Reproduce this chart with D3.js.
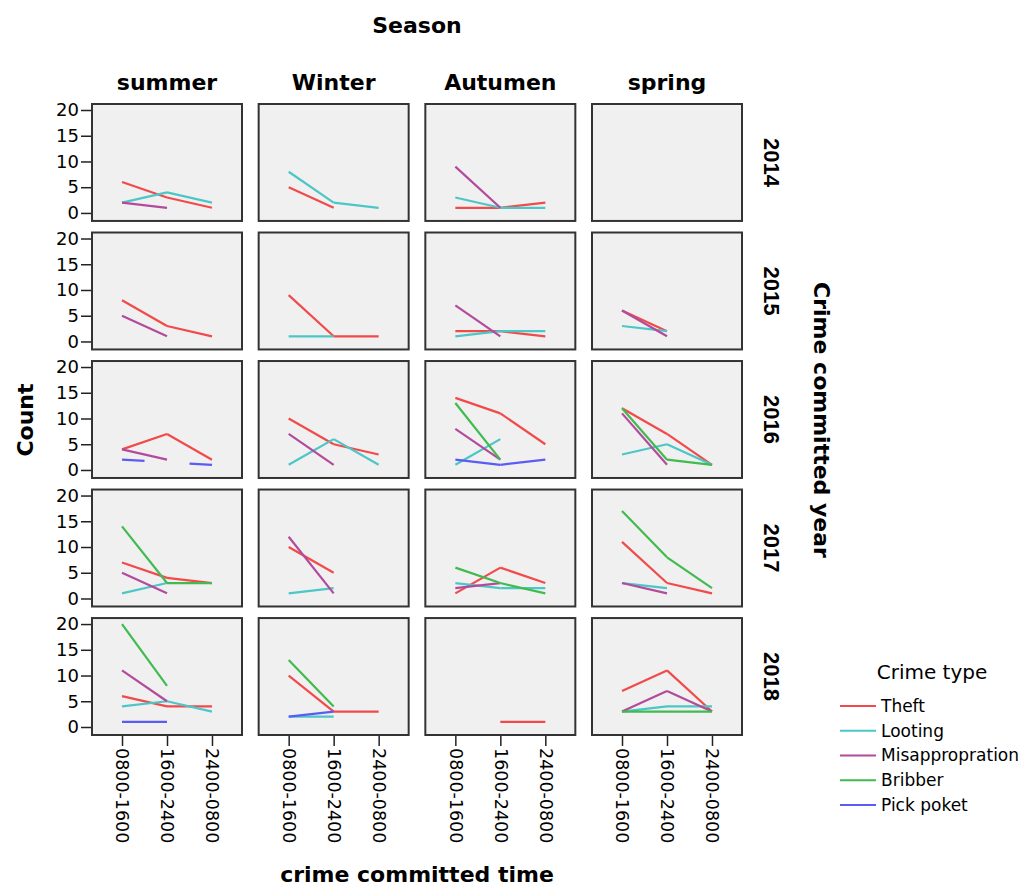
<!DOCTYPE html>
<html lang="en">
  <head>
    <meta charset="UTF-8" />
    <title>Crime type by time, season and year</title>
    <script src="https://cdn.jsdelivr.net/npm/d3@7"></script>
    <style>
      body { margin: 0; background: #fff; }
      text { font-family: "DejaVu Sans", sans-serif; fill: #000; }
    </style>
  </head>
  <body>
    <svg id="container" width="1027" height="888"></svg>
    <script>
      // facets
      const seasons = ["summer", "Winter", "Autumen", "spring"];
      const years = ["2014", "2015", "2016", "2017", "2018"];
      const times = ["0800-1600", "1600-2400", "2400-0800"];
      const yTicks = [0, 5, 10, 15, 20];

      const crimeTypes = ["Theft", "Looting", "Misappropration", "Bribber", "Pick poket"];
      const crimeColors = ["#f24a4a", "#4cc6c6", "#b24b9c", "#41bb4f", "#5b5bf5"];

      // counts per panel, order: year by year, seasons summer/Winter/Autumen/spring
      // each entry = [0800-1600, 1600-2400, 2400-0800]
      const N = null;
      const theft = [
        [6, 3, 1], [5, 1, N], [1, 1, 2], [N, N, N],
        [8, 3, 1], [9, 1, 1], [2, 2, 1], [6, 2, N],
        [4, 7, 2], [10, 5, 3], [14, 11, 5], [12, 7, 1],
        [7, 4, 3], [10, 5, N], [1, 6, 3], [11, 3, 1],
        [6, 4, 4], [10, 3, 3], [N, 1, 1], [7, 11, 3]
      ];
      const looting = [
        [2, 4, 2], [8, 2, 1], [3, 1, 1], [N, N, N],
        [N, N, N], [1, 1, N], [1, 2, 2], [3, 2, N],
        [N, N, N], [1, 6, 1], [1, 6, N], [3, 5, 1],
        [1, 3, N], [1, 2, N], [3, 2, 2], [3, 2, N],
        [4, 5, 3], [2, 2, N], [N, N, N], [3, 4, 4]
      ];
      const misappropration = [
        [2, 1, N], [N, N, N], [9, 1, N], [N, N, N],
        [5, 1, N], [N, N, N], [7, 1, N], [6, 1, N],
        [4, 2, N], [7, 1, N], [8, 2, N], [11, 1, N],
        [5, 1, N], [12, 1, N], [2, 3, N], [3, 1, N],
        [11, 5, N], [N, N, N], [N, N, N], [3, 7, 3]
      ];
      const bribber = [
        [N, N, N], [N, N, N], [N, N, N], [N, N, N],
        [N, N, N], [N, N, N], [N, N, N], [N, N, N],
        [N, N, N], [N, N, N], [13, 2, N], [12, 2, 1],
        [14, 3, 3], [N, N, N], [6, 3, 1], [17, 8, 2],
        [20, 8, N], [13, 4, N], [N, N, N], [3, 3, 3]
      ];
      const pickPoket = [
        [N, N, N], [N, N, N], [N, N, N], [N, N, N],
        [N, N, N], [N, N, N], [N, N, N], [N, N, N],
        [2, N, 1], [N, N, N], [2, 1, 2], [N, N, N],
        [N, N, N], [N, N, N], [N, N, N], [N, N, N],
        [1, 1, N], [2, 3, N], [N, N, N], [N, N, N]
      ];
      const seriesData = [theft, looting, misappropration, bribber, pickPoket];

      let svg = d3.select("#container");

      // panel grid
      let colScale = d3.scaleBand().domain(seasons).range([92, 742]).paddingInner(0.1);
      let rowScale = d3.scaleBand().domain(years).range([104, 735]).paddingInner(0.09);
      let pw = colScale.bandwidth();
      let ph = rowScale.bandwidth();

      let x = d3.scalePoint().domain(times).range([0, pw]).padding(0.667);
      let y = d3.scaleLinear().domain([0, 20]).range([ph - 8, 6]);
      let color = d3.scaleOrdinal().domain(crimeTypes).range(crimeColors);

      years.forEach((yr, ri) => {
        seasons.forEach((s, ci) => {
          let g = svg.append("g")
            .attr("transform", `translate(${colScale(s)},${rowScale(yr)})`);

          g.append("rect")
            .attr("width", pw)
            .attr("height", ph)
            .attr("fill", "#f0f0f0")
            .attr("stroke", "#333")
            .attr("stroke-width", 2);

          // lines, with a broken link across a missing category
          crimeTypes.forEach((ct, k) => {
            let vals = seriesData[k][ri * 4 + ci];
            let pts = [];
            vals.forEach((v, i) => { if (v !== null) pts.push([x(times[i]), y(v), i]); });
            for (let j = 0; j + 1 < pts.length; j++) {
              let a = pts[j], b = pts[j + 1];
              let segs = b[2] - a[2] > 1 ? [[0, 0.25], [0.75, 1]] : [[0, 1]];
              segs.forEach(([t0, t1]) => {
                g.append("line")
                  .attr("x1", a[0] + (b[0] - a[0]) * t0)
                  .attr("y1", a[1] + (b[1] - a[1]) * t0)
                  .attr("x2", a[0] + (b[0] - a[0]) * t1)
                  .attr("y2", a[1] + (b[1] - a[1]) * t1)
                  .attr("stroke", color(ct))
                  .attr("stroke-width", 2.2);
              });
            }
          });

          // y axis on left column only
          if (ci === 0) {
            let ay = g.append("g")
              .attr("transform", "translate(-1,0)")
              .call(d3.axisLeft(y).tickValues(yTicks).tickSize(10).tickPadding(2));
            ay.select(".domain").remove();
            ay.selectAll("line").attr("stroke", "#222").attr("stroke-width", 1.5);
            ay.selectAll("text").style("font-size", "18px").style("font-family", "DejaVu Sans");
          }

          // x axis on bottom row only
          if (ri === years.length - 1) {
            let ax = g.append("g")
              .attr("transform", `translate(0,${ph + 1})`)
              .call(d3.axisBottom(x).tickSize(10).tickPadding(2));
            ax.select(".domain").remove();
            ax.selectAll("line").attr("stroke", "#222").attr("stroke-width", 1.5);
            ax.selectAll("text")
              .style("font-size", "17.5px")
              .style("font-family", "DejaVu Sans")
              .attr("text-anchor", "start")
              .attr("transform", "rotate(90)")
              .attr("x", 12)
              .attr("y", 0)
              .attr("dy", "0.35em");
          }
        });
      });

      // column headers
      svg.append("text")
        .attr("x", 417).attr("y", 33)
        .attr("text-anchor", "middle")
        .style("font-weight", "bold").style("font-size", "22px")
        .text("Season");
      svg.selectAll(".colhead")
        .data(seasons)
        .enter()
        .append("text")
        .attr("x", (d) => colScale(d) + pw / 2)
        .attr("y", 90)
        .attr("text-anchor", "middle")
        .style("font-weight", "bold").style("font-size", "22px")
        .text((d) => d);

      // row headers
      svg.selectAll(".rowhead")
        .data(years)
        .enter()
        .append("text")
        .attr("transform", (d) => `translate(760,${rowScale(d) + ph / 2}) rotate(90)`)
        .attr("text-anchor", "middle")
        .attr("dy", "-0.2em")
        .style("font-family", "'Liberation Sans', Arial, sans-serif")
        .style("font-weight", "bold").style("font-size", "22px")
        .text((d) => d);

      svg.append("text")
        .attr("transform", "translate(810,420) rotate(90)")
        .attr("text-anchor", "middle")
        .attr("dy", "-0.2em")
        .style("font-weight", "bold").style("font-size", "22px")
        .text("Crime committed year");

      svg.append("text")
        .attr("transform", "translate(33,420) rotate(-90)")
        .attr("text-anchor", "middle")
        .style("font-weight", "bold").style("font-size", "22px")
        .text("Count");

      svg.append("text")
        .attr("x", 417).attr("y", 882)
        .attr("text-anchor", "middle")
        .style("font-weight", "bold").style("font-size", "22px")
        .text("crime committed time");

      // legend
      let legY = d3.scalePoint().domain(crimeTypes).range([706, 805]);
      svg.append("text")
        .attr("x", 932).attr("y", 672)
        .attr("dy", "0.35em")
        .attr("text-anchor", "middle")
        .style("font-size", "20px")
        .text("Crime type");
      let leg = svg.selectAll(".leg")
        .data(crimeTypes)
        .enter()
        .append("g")
        .attr("transform", (d) => `translate(840,${legY(d)})`);
      leg.append("line")
        .attr("x1", 0).attr("x2", 36)
        .attr("stroke", (d) => color(d))
        .attr("stroke-width", 2.2);
      leg.append("text")
        .attr("x", 41)
        .attr("dy", "0.35em")
        .style("font-size", "17px")
        .text((d) => d);
    </script>
  </body>
</html>
